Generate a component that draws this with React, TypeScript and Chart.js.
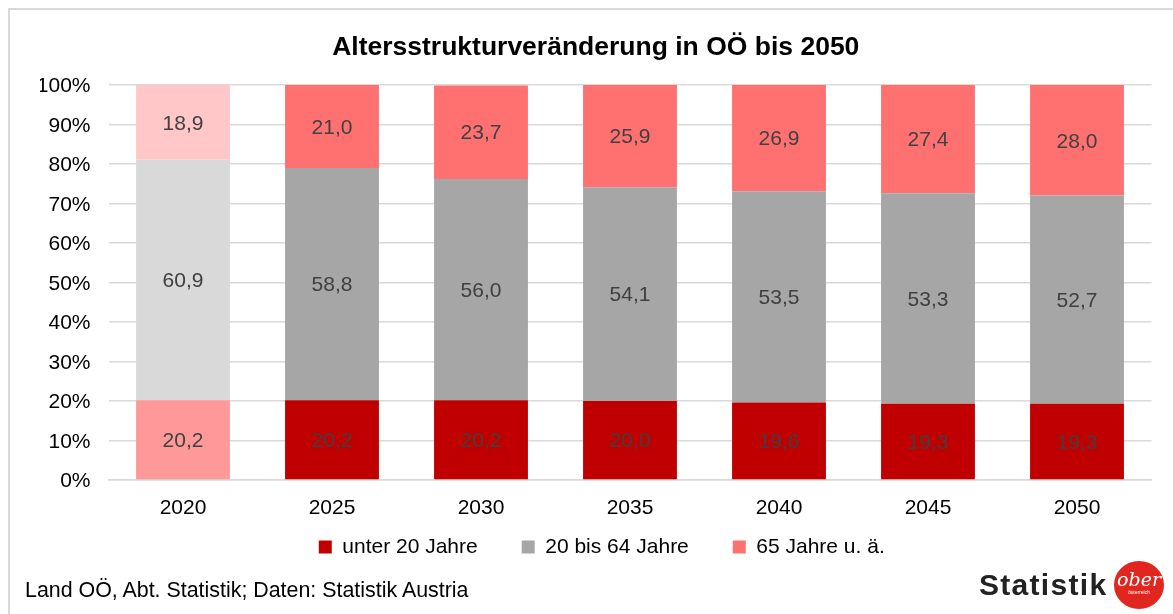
import React, { useEffect, useRef } from "react";
import { Chart, registerables } from "chart.js";

Chart.register(...registerables);

const categories = ["2020", "2025", "2030", "2035", "2040", "2045", "2050"];
const under20 = [20.2, 20.2, 20.2, 20.0, 19.6, 19.3, 19.3];
const age20to64 = [60.9, 58.8, 56.0, 54.1, 53.5, 53.3, 52.7];
const age65plus = [18.9, 21.0, 23.7, 25.9, 26.9, 27.4, 28.0];
const seriesNames = ["unter 20 Jahre", "20 bis 64 Jahre", "65 Jahre u. ä."];
const yTicks = [0, 10, 20, 30, 40, 50, 60, 70, 80, 90, 100];

const darkColors = ["#C00000", "#A6A6A6", "#FF7171"];
const lightColors = ["#FF9999", "#D9D9D9", "#FFC7C7"];

const FONT = "'Liberation Sans', Arial, sans-serif";

const colorsFor = (s: number) =>
  categories.map((_, i) => (i === 0 ? lightColors[s] : darkColors[s]));

const labelPlugin = {
  id: "segLabels",
  afterDatasetsDraw(chart: any) {
    const ctx = chart.ctx;
    ctx.save();
    ctx.font = `21px ${FONT}`;
    ctx.fillStyle = "#404040";
    ctx.textAlign = "center";
    ctx.textBaseline = "middle";
    chart.data.datasets.forEach((ds: any, di: number) => {
      const meta = chart.getDatasetMeta(di);
      meta.data.forEach((el: any, i: number) => {
        const v = ds.data[i];
        const p = el.getProps(["x", "y", "base"], true);
        ctx.fillText(v.toFixed(1).replace(".", ","), p.x, (p.y + p.base) / 2 + 1.5);
      });
    });
    ctx.restore();
  },
};

// moves the legend row to sit closer under the axis labels
const legendShift = {
  id: "legendShift",
  afterLayout(chart: any) {
    const lg = chart.legend;
    if (!lg) return;
    const dy = 492.5 - lg.top;
    lg.top += dy;
    lg.bottom += dy;
    lg.left += 6;
    lg.right += 6;
  },
};

export default function App() {
  const ref = useRef<HTMLCanvasElement | null>(null);

  useEffect(() => {
    if (!ref.current) return;
    const chart = new Chart(ref.current, {
      type: "bar",
      data: {
        labels: categories,
        datasets: [
          { label: seriesNames[0], data: under20, backgroundColor: colorsFor(0), borderWidth: 0 },
          { label: seriesNames[1], data: age20to64, backgroundColor: colorsFor(1), borderWidth: 0 },
          { label: seriesNames[2], data: age65plus, backgroundColor: colorsFor(2), borderWidth: 0 },
        ],
      },
      options: {
        responsive: false,
        animation: false,
        layout: { padding: { top: 10, left: 40, right: 21.5, bottom: 0 } },
        datasets: { bar: { barPercentage: 0.63, categoryPercentage: 1 } },
        scales: {
          x: {
            stacked: true,
            grid: { display: false, drawTicks: false },
            border: { display: true, color: "#d9d9d9", width: 1.5 },
            ticks: { color: "#000", font: { family: FONT, size: 21 }, padding: 16 },
            afterFit: (s: any) => {
              s.height = 45;
            },
          },
          y: {
            stacked: true,
            min: 0,
            max: 100,
            afterBuildTicks: (s: any) => {
              s.ticks = yTicks.map((v) => ({ value: v }));
            },
            grid: { color: "#d9d9d9", lineWidth: 1.5, drawTicks: false },
            border: { display: false },
            ticks: {
              color: "#000",
              font: { family: FONT, size: 21 },
              padding: 18,
              labelOffset: 1.5,
              callback: (v: any) => v + "%",
            },
            afterFit: (s: any) => {
              s.width = 68.5;
            },
          },
        },
        plugins: {
          title: {
            display: true,
            text: "Altersstrukturveränderung in OÖ bis 2050",
            color: "#000",
            font: { family: FONT, size: 26.5, weight: "bold" },
            padding: { top: 21.4, bottom: 21.8 },
          },
          legend: {
            position: "bottom",
            labels: {
              color: "#000",
              font: { family: FONT, size: 21 },
              boxWidth: 13,
              boxHeight: 13,
              padding: 44,
              generateLabels: () =>
                seriesNames.map((n, i) => ({
                  text: n,
                  fillStyle: darkColors[i],
                  strokeStyle: darkColors[i],
                  lineWidth: 0,
                  hidden: false,
                  datasetIndex: i,
                })),
            },
          },
          tooltip: { enabled: false },
        },
      },
      plugins: [labelPlugin, legendShift],
    } as any);
    return () => chart.destroy();
  }, []);

  return (
    <div
      style={{
        position: "fixed",
        left: 0,
        top: 0,
        width: 1173,
        height: 614,
        background: "#fff",
        overflow: "hidden",
      }}
    >
      <div
        style={{
          position: "absolute",
          left: 8,
          top: 8,
          width: 2000,
          height: 2000,
          borderTop: "2px solid #d9d9d9",
          borderLeft: "2px solid #d9d9d9",
        }}
      />
      <canvas
        ref={ref}
        width={1173}
        height={600}
        style={{ position: "absolute", left: 0, top: 0, width: 1173, height: 600 }}
      />
      <div
        style={{
          position: "absolute",
          left: 25,
          top: 578,
          font: `21.4px/24px ${FONT}`,
          color: "#000",
          whiteSpace: "nowrap",
        }}
      >
        Land OÖ, Abt. Statistik; Daten: Statistik Austria
      </div>
      <div
        style={{
          position: "absolute",
          left: 979,
          top: 567,
          font: `bold 30px/36px ${FONT}`,
          letterSpacing: 1.3,
          color: "#222",
          whiteSpace: "nowrap",
        }}
      >
        Statistik
      </div>
      <div
        style={{
          position: "absolute",
          left: 1114,
          top: 561,
          width: 50,
          height: 48,
          borderRadius: "50%",
          background: "#E0261F",
          color: "#fff",
          textAlign: "center",
          overflow: "hidden",
        }}
      >
        <div style={{ font: "italic 19px/20px 'DejaVu Serif', serif", marginTop: 8 }}>ober</div>
        <div style={{ font: `5px/6px ${FONT}` }}>österreich</div>
      </div>
    </div>
  );
}
